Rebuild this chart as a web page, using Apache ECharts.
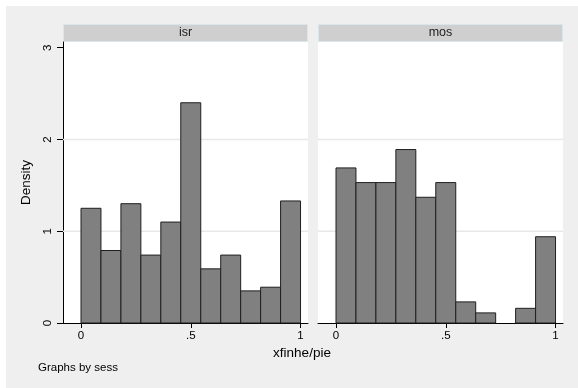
<!DOCTYPE html>
<html>
<head>
<meta charset="utf-8">
<script src="https://cdn.jsdelivr.net/npm/echarts@6/dist/echarts.min.js"></script>
<style>
  html, body { margin: 0; padding: 0; background: #fff; }
  #chart { width: 578px; height: 388px; }
</style>
</head>
<body>
<div id="chart"></div>
<script>
  // bin edges (11 bins between 0 and 1)
  var binEdges = [0, 0.0909, 0.1818, 0.2727, 0.3636, 0.4545, 0.5455, 0.6364, 0.7273, 0.8182, 0.9091, 1];
  // density per bin
  var isrDensity = [1.25, 0.79, 1.30, 0.74, 1.10, 2.40, 0.59, 0.74, 0.35, 0.39, 1.33];
  var mosDensity = [1.69, 1.53, 1.53, 1.89, 1.37, 1.53, 0.23, 0.11, 0, 0.16, 0.94];
  var panelNames = ['isr', 'mos'];
  var xTicks = [0, 0.5, 1];
  var yTicks = [0, 1, 2, 3];
  var gridLines = [1, 2];

  var font = '"Liberation Sans", Arial, sans-serif';

  function toBins(vals) {
    var out = [];
    vals.forEach(function (v, i) {
      out.push([binEdges[i], binEdges[i + 1], v]);
    });
    return out;
  }

  function renderBar(params, api) {
    var h = api.value(2);
    if (!h) return null;
    var p0 = api.coord([api.value(0), h]);
    var p1 = api.coord([api.value(1), 0]);
    return {
      type: 'rect',
      shape: { x: p0[0], y: p0[1], width: p1[0] - p0[0], height: p1[1] - p0[1] },
      style: { fill: '#808080', stroke: '#1f1f1f', lineWidth: 1 }
    };
  }

  // horizontal grid line across the whole panel
  function renderGridLine(params, api) {
    var cs = params.coordSys;
    var y = api.coord([0, api.value(0)])[1];
    return {
      type: 'line',
      shape: { x1: cs.x, y1: y, x2: cs.x + cs.width, y2: y },
      style: { stroke: '#e8e8e8', lineWidth: 1.5 }
    };
  }

  function xLabel(v) {
    if (v === 0) return '0';
    if (v === 1) return '1';
    return '.5';
  }

  var grids = [
    { left: 63, top: 42, width: 245, height: 281 },
    { left: 318, top: 42, width: 245, height: 281 }
  ];

  var xAxes = [0, 1].map(function (i) {
    return {
      type: 'value', gridIndex: i, min: -0.082, max: 1.034,
      axisLine: { show: true, onZero: false, lineStyle: { color: '#000', width: 1 } },
      axisTick: { show: true, length: 5, customValues: xTicks, lineStyle: { color: '#000' } },
      axisLabel: { customValues: xTicks, formatter: xLabel, margin: 7, color: '#000', fontSize: 11.5, fontFamily: font },
      splitLine: { show: false }
    };
  });

  var yAxes = [0, 1].map(function (i) {
    return {
      type: 'value', gridIndex: i, min: 0, max: 3.062, show: i === 0,
      name: i === 0 ? 'Density' : '',
      nameLocation: 'middle', nameGap: 30, nameRotate: 90,
      nameTextStyle: { color: '#000', fontSize: 13.5, fontFamily: font },
      axisLine: { show: true, onZero: false, lineStyle: { color: '#000', width: 1 } },
      axisTick: { show: true, length: 6, customValues: yTicks, lineStyle: { color: '#000' } },
      axisLabel: { customValues: yTicks, rotate: 90, margin: 9, color: '#000', fontSize: 11.5, fontFamily: font },
      splitLine: { show: false }
    };
  });

  var series = [];
  [isrDensity, mosDensity].forEach(function (vals, i) {
    series.push({
      type: 'custom', xAxisIndex: i, yAxisIndex: i, z: 1, silent: true,
      renderItem: renderGridLine,
      encode: { y: 0 },
      data: gridLines.map(function (g) { return [g]; })
    });
    series.push({
      type: 'custom', xAxisIndex: i, yAxisIndex: i, z: 3,
      renderItem: renderBar,
      encode: { x: [0, 1], y: 2 },
      data: toBins(vals)
    });
  });

  // background and panel headers
  var graphics = [
    { type: 'rect', z: -10, shape: { x: 6, y: 6, width: 572, height: 382 }, style: { fill: '#efefef' } }
  ];
  grids.forEach(function (g, i) {
    graphics.push({ type: 'rect', z: 0, shape: { x: g.left + 0.5, y: 24.5, width: g.width - 1, height: 17 },
      style: { fill: '#cfcfcf', stroke: '#d9e6ea', lineWidth: 1 } });
    graphics.push({ type: 'text', z: 1, x: g.left + g.width / 2, y: 33,
      style: { text: panelNames[i], fill: '#222', font: '12.5px ' + font, textAlign: 'center', textVerticalAlign: 'middle' } });
  });
  graphics.push({ type: 'text', x: 302, y: 353,
    style: { text: 'xfinhe/pie', fill: '#000', font: '13.5px ' + font, textAlign: 'center', textVerticalAlign: 'middle' } });
  graphics.push({ type: 'text', x: 38, y: 368,
    style: { text: 'Graphs by sess', fill: '#000', font: '11.5px ' + font, textAlign: 'left', textVerticalAlign: 'middle' } });

  var myChart = echarts.init(document.getElementById('chart'));
  myChart.setOption({
    backgroundColor: '#fff',
    animation: false,
    grid: grids.map(function (g) {
      return Object.assign({ show: true, backgroundColor: '#fff', borderWidth: 0 }, g);
    }),
    xAxis: xAxes,
    yAxis: yAxes,
    graphic: graphics,
    series: series
  });
</script>
</body>
</html>
